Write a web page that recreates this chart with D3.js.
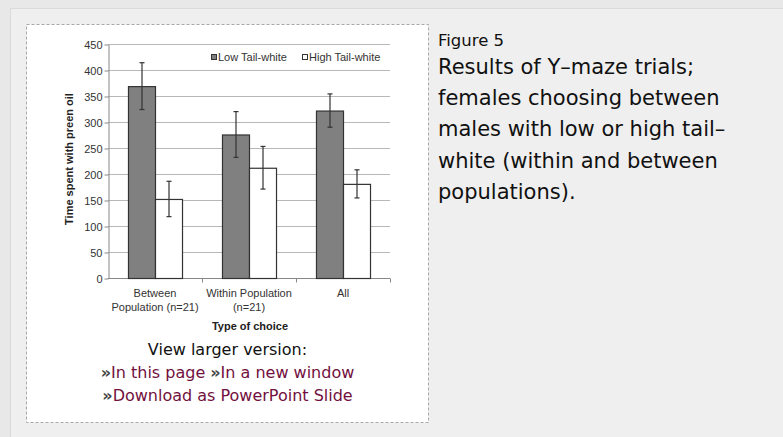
<!DOCTYPE html>
<html>
<head>
<meta charset="utf-8">
<script src="https://cdn.jsdelivr.net/npm/d3@7"></script>
<style>
  body { margin: 0; background: #e8e8e8; }
  svg { display: block; }
</style>
</head>
<body>
<svg width="783" height="437"></svg>
<script>
// data
var categories = ["Between Population (n=21)", "Within Population (n=21)", "All"];
var categoryLines = [["Between", "Population (n=21)"], ["Within Population", "(n=21)"], ["All"]];
var series = ["Low Tail-white", "High Tail-white"];
var lowValues = [369, 276, 322];
var lowErrors = [45, 44, 32];
var highValues = [152, 212, 181];
var highErrors = [34, 41, 27];
var yTicks = [0, 50, 100, 150, 200, 250, 300, 350, 400, 450];

var rows = categories.map(function(c, i) {
  return {
    cat: c,
    lines: categoryLines[i],
    bars: [
      { s: series[0], v: lowValues[i], e: lowErrors[i] },
      { s: series[1], v: highValues[i], e: highErrors[i] }
    ]
  };
});

var svg = d3.select("svg");

// page panel
svg.append("rect").attr("x", 10.5).attr("y", 8.5).attr("width", 790).attr("height", 440)
  .attr("fill", "#efefef").attr("stroke", "#dadada");

// figure box with dotted border
svg.append("rect").attr("x", 26.5).attr("y", 24.5).attr("width", 402).attr("height", 398)
  .attr("fill", "#fff").attr("stroke", "#a8a8a8").attr("stroke-dasharray", "3,2");

var plotLeft = 108, plotRight = 390, plotTop = 44, plotBottom = 278;

var x0 = d3.scaleBand().domain(categories).range([plotLeft, plotRight]).paddingInner(0);
var x1 = d3.scaleBand().domain(series).range([0, x0.bandwidth()]).paddingInner(0).paddingOuter(0.74);
var y = d3.scaleLinear().domain([0, 450]).range([plotBottom, plotTop]);
var color = d3.scaleOrdinal().domain(series).range(["#808080", "#ffffff"]);

var plot = svg.append("g").attr("font-family", "'Liberation Sans', Arial, sans-serif");

// gridlines
plot.append("g").selectAll("line").data(yTicks.slice(1)).enter().append("line")
  .attr("x1", plotLeft).attr("x2", plotRight)
  .attr("y1", function(d) { return y(d) + 0.5; })
  .attr("y2", function(d) { return y(d) + 0.5; })
  .attr("stroke", "#b8b8b8").attr("stroke-width", 1.2);

// y axis
var yAxis = d3.axisLeft(y).tickValues(yTicks).tickSize(4).tickSizeOuter(0);
var yGroup = plot.append("g").attr("transform", "translate(" + (plotLeft + 0.5) + ",0.5)").call(yAxis);
yGroup.select(".domain").attr("stroke", "#888");
yGroup.selectAll(".tick line").attr("stroke", "#888");
yGroup.selectAll(".tick text").attr("font-size", 11).attr("fill", "#333")
  .attr("font-family", "'Liberation Sans', Arial, sans-serif").attr("x", -6);

// x axis: ticks between categories
var xGroup = plot.append("g").attr("transform", "translate(0," + (plotBottom + 0.5) + ")");
xGroup.append("line").attr("x1", plotLeft).attr("x2", plotRight).attr("stroke", "#888");
xGroup.selectAll("line.tk").data(categories).enter().append("line").attr("class", "tk")
  .attr("x1", function(d) { return x0(d) + x0.bandwidth() + 0.5; })
  .attr("x2", function(d) { return x0(d) + x0.bandwidth() + 0.5; })
  .attr("y1", 0).attr("y2", 4).attr("stroke", "#888");

var labels = xGroup.selectAll("text.cat").data(rows).enter().append("text").attr("class", "cat")
  .attr("text-anchor", "middle").attr("font-size", 11).attr("fill", "#333")
  .attr("transform", function(d) { return "translate(" + (x0(d.cat) + x0.bandwidth() / 2) + ",0)"; });
labels.selectAll("tspan").data(function(d) { return d.lines; }).enter().append("tspan")
  .attr("x", 0).attr("y", function(d, i) { return 18 + i * 14; })
  .text(function(d) { return d; });

// bars
var groups = plot.append("g").selectAll("g").data(rows).enter().append("g")
  .attr("transform", function(d) { return "translate(" + x0(d.cat) + ",0)"; });

groups.selectAll("rect").data(function(d) { return d.bars; }).enter().append("rect")
  .attr("x", function(d) { return x1(d.s) + 0.5; })
  .attr("y", function(d) { return y(d.v) + 0.5; })
  .attr("width", x1.bandwidth())
  .attr("height", function(d) { return y(0) - y(d.v); })
  .attr("fill", function(d) { return color(d.s); })
  .attr("stroke", "#333").attr("stroke-width", 1.2);

// error bars
var err = groups.selectAll("g.err").data(function(d) { return d.bars; }).enter().append("g")
  .attr("class", "err").attr("stroke", "#333").attr("stroke-width", 1.2);
err.append("line")
  .attr("x1", function(d) { return x1(d.s) + x1.bandwidth() / 2 + 0.5; })
  .attr("x2", function(d) { return x1(d.s) + x1.bandwidth() / 2 + 0.5; })
  .attr("y1", function(d) { return y(d.v + d.e); })
  .attr("y2", function(d) { return y(d.v - d.e); });
[1, -1].forEach(function(sign) {
  err.append("line")
    .attr("x1", function(d) { return x1(d.s) + x1.bandwidth() / 2 - 2; })
    .attr("x2", function(d) { return x1(d.s) + x1.bandwidth() / 2 + 3; })
    .attr("y1", function(d) { return y(d.v + sign * d.e); })
    .attr("y2", function(d) { return y(d.v + sign * d.e); });
});

// legend
var legendX = [211, 302];
var legend = plot.append("g").selectAll("g").data(series).enter().append("g")
  .attr("transform", function(d, i) { return "translate(" + legendX[i] + ",54)"; });
legend.append("rect").attr("x", 0.5).attr("y", 0.5).attr("width", 5).attr("height", 5)
  .attr("fill", function(d) { return color(d); }).attr("stroke", "#333");
legend.append("text").attr("x", 7).attr("y", 7).attr("font-size", 11).attr("fill", "#333")
  .text(function(d) { return d; });

// axis titles
plot.append("text").attr("text-anchor", "middle").attr("font-size", 11).attr("font-weight", "bold")
  .attr("fill", "#222")
  .attr("transform", "translate(73," + ((plotTop + plotBottom) / 2 - 2) + ") rotate(-90)")
  .text("Time spent with preen oil");
plot.append("text").attr("x", 250).attr("y", 330).attr("text-anchor", "middle")
  .attr("font-size", 11).attr("font-weight", "bold").attr("fill", "#222")
  .text("Type of choice");

// links under the figure
var txt = svg.append("g").attr("font-family", "'DejaVu Sans', Verdana, sans-serif")
  .attr("font-size", 16).attr("text-anchor", "middle");
txt.append("text").attr("x", 227.5).attr("y", 355).attr("fill", "#111").text("View larger version:");
var linkLines = [["In this page", "In a new window"], ["Download as PowerPoint Slide"]];
linkLines.forEach(function(items, li) {
  var t = txt.append("text").attr("x", 227.5).attr("y", 378 + li * 23);
  items.forEach(function(s, i) {
    t.append("tspan").attr("fill", "#444").attr("font-weight", "bold").attr("font-size", 16)
      .attr("dx", i > 0 ? 5 : 0).text("\u00bb");
    t.append("tspan").attr("fill", "#72103e").attr("dx", 0).text(s);
  });
});

// caption
var cap = svg.append("g").attr("font-family", "'DejaVu Sans', Verdana, sans-serif").attr("fill", "#111");
cap.append("text").attr("x", 438).attr("y", 46).attr("font-size", 16.5).text("Figure 5");
var captionLines = ["Results of Y\u2013maze trials;", "females choosing between",
  "males with low or high tail\u2013", "white (within and between", "populations)."];
cap.append("text").attr("font-size", 21).selectAll("tspan").data(captionLines).enter().append("tspan")
  .attr("x", 438).attr("y", function(d, i) { return 74 + i * 31.2; })
  .text(function(d) { return d; });
</script>
</body>
</html>
